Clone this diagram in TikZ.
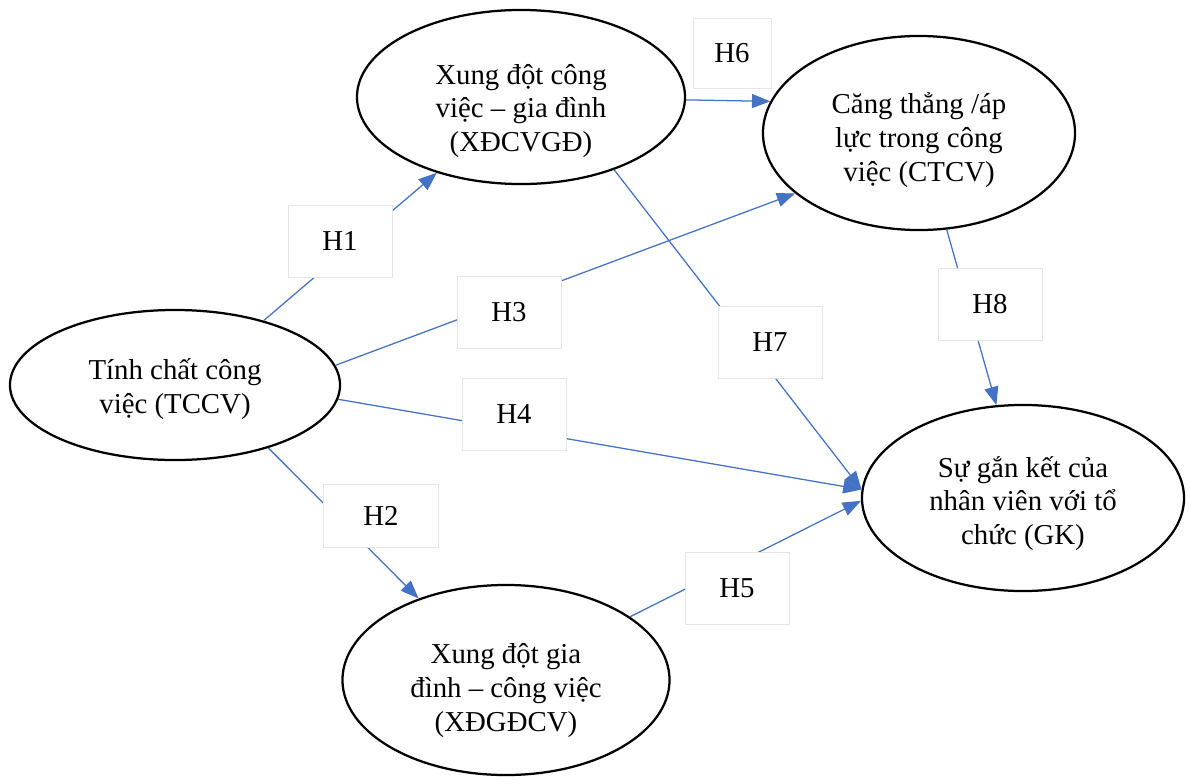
\documentclass[tikz,border=0pt]{standalone}
\usepackage{fontspec}
\setmainfont{Liberation Serif}
\usepackage{xcolor}
\usepackage{tikz}
\usetikzlibrary{arrows.meta,shapes}
\definecolor{linkblue}{RGB}{68,114,196}
\newcommand{\topgap}[1]{\rule{0pt}{#1}}

\begin{document}
\begin{tikzpicture}[x=0.025cm,y=-0.025cm,
construct/.style={ellipse,draw,line width=1.6pt,inner sep=0pt,align=center,font=\fontsize{20.5}{24}\selectfont},
hyp/.style={draw=black!10,fill=white,line width=0.5pt,minimum width=2.6cm,minimum height=1.8cm,font=\fontsize{20.5}{24}\selectfont},
link/.style={-{Triangle[length=13pt,width=10pt]},color=linkblue,line width=0.9pt}]
\useasboundingbox(0,0)rectangle(1190,783);
\node[construct,minimum width=8.25cm,minimum height=3.75cm](tccv)at(175,385){\topgap{21pt}Tính chất công\\việc (TCCV)};
\node[construct,minimum width=8.2cm,minimum height=4.35cm](xdcvgd)at(521,97){\topgap{34pt}Xung đột công\\việc – gia đình\\(XĐCVGĐ)};
\node[construct,minimum width=7.8cm,minimum height=4.85cm](ctcv)at(919,133){\topgap{25pt}Căng thẳng /áp\\lực trong công\\việc (CTCV)};
\node[construct,minimum width=8.05cm,minimum height=4.65cm](gk)at(1023,498){\topgap{22.5pt}Sự gắn kết của\\nhân viên với tổ\\chức (GK)};
\node[construct,minimum width=8.175cm,minimum height=4.75cm](xdgdcv)at(506,680){\topgap{29pt}Xung đột gia\\đình – công việc\\(XĐGĐCV)};
\draw[link](tccv.36)--(xdcvgd.222);
\draw[link](tccv.7)--(ctcv.206);
\draw[link](tccv.-5)--(gk.177);
\draw[link](tccv.-34)--(xdgdcv.137);
\draw[link](xdcvgd.-1)--(ctcv.168);
\draw[link](xdcvgd.-38)--(gk.177);
\draw[link](ctcv.286)--(gk.106);
\draw[link](xdgdcv.27)--(gk.181);
\node[hyp](h1)at(340,241){H1};
\node[hyp](h3)at(509,312){H3};
\node[hyp](h4)at(514,414){H4};
\node[hyp,minimum width=2.875cm,minimum height=1.575cm](h2)at(381,516){H2};
\node[hyp](h5)at(737,588){H5};
\node[hyp](h7)at(770,342){H7};
\node[hyp](h8)at(990,304){H8};
\node[hyp,minimum width=1.95cm,minimum height=1.75cm](h6)at(732,53){H6};
\end{tikzpicture}
\end{document}
